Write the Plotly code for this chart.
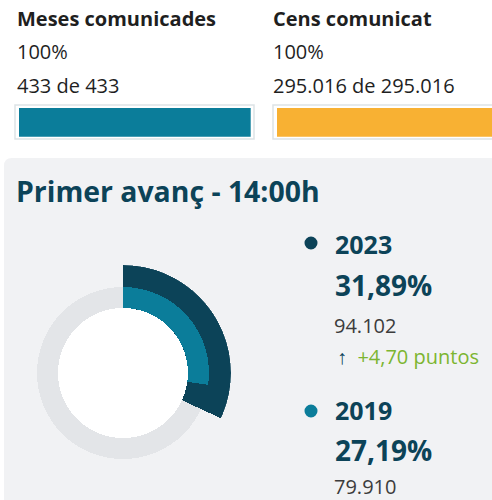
import plotly.graph_objects as go

# --- data ---
mesas_comunicadas = 433
mesas_total = 433
cens_comunicat = 295016
cens_total = 295016

anys = ["2023", "2019"]
participacio = [31.89, 27.19]
vots = ["94.102", "79.910"]
diferencia = "+4,70 puntos"

W, H = 492, 500
DARK = "#0c4358"
TEAL = "#0b7d9a"
ORANGE = "#f8b133"
GREEN = "#7cb530"
FONT = "Open Sans"


def px(x):
    return x / W


def py(y):
    return 1 - y / H


fig = go.Figure()

# progress bars (top)
fig.add_trace(go.Bar(x=[mesas_comunicadas / mesas_total * 100], y=[0], orientation="h",
                     marker=dict(color=TEAL, line_width=0), width=1,
                     xaxis="x", yaxis="y", hoverinfo="skip", showlegend=False))
fig.add_trace(go.Bar(x=[cens_comunicat / cens_total * 100], y=[0], orientation="h",
                     marker=dict(color=ORANGE, line_width=0), width=1,
                     xaxis="x2", yaxis="y2", hoverinfo="skip", showlegend=False))

# donut
r_in, r_mid, r_out = 65, 86, 108
fig.add_trace(go.Barpolar(r=[r_in], base=[0], theta=[180], width=[360],
                          marker=dict(color="white", line_width=0), hoverinfo="skip", showlegend=False))
fig.add_trace(go.Barpolar(r=[r_mid - r_in], base=[r_in], theta=[180], width=[360],
                          marker=dict(color="#e3e5e8", line_width=0), hoverinfo="skip", showlegend=False))
for val, col, ro in [(participacio[0], DARK, r_out), (participacio[1], TEAL, r_mid)]:
    ang = val * 3.6
    fig.add_trace(go.Barpolar(r=[ro - r_in], base=[r_in], theta=[ang / 2], width=[ang],
                              marker=dict(color=col, line_width=0), hoverinfo="skip", showlegend=False))

shapes = []
# card background
rad = 8
shapes.append(dict(type="path", xref="paper", yref="paper", layer="below",
                   path=f"M {px(4)},{py(510)} L {px(4)},{py(158 + rad)} Q {px(4)},{py(158)} {px(4 + rad)},{py(158)} "
                        f"L {px(510)},{py(158)} L {px(510)},{py(510)} Z",
                   fillcolor="#f1f2f4", line_width=0))
# bar tracks
for xa, xb in [(15, 254), (273, 520)]:
    shapes.append(dict(type="rect", xref="paper", yref="paper", layer="below",
                       x0=px(xa), x1=px(xb), y0=py(139), y1=py(105),
                       fillcolor="white", line=dict(color="#dde3e6", width=1.5)))
# legend dots
for cy, col in [(243, DARK), (411, TEAL)]:
    shapes.append(dict(type="circle", xref="paper", yref="paper",
                       x0=px(304.5), x1=px(317.5), y0=py(cy + 6.5), y1=py(cy - 6.5),
                       fillcolor=col, line_width=0))

ann = []


def text(x, y, s, size, color, bold=False):
    ann.append(dict(x=px(x), y=py(y), xref="paper", yref="paper", xanchor="left", yanchor="middle",
                    text=f"<b>{s}</b>" if bold else s, showarrow=False,
                    font=dict(family=FONT, size=size, color=color)))


fmt = lambda n: f"{n:,}".replace(",", ".")
TXT = "#1f1f1f"
text(15, 18, "Meses comunicades", 20, TXT, True)
text(15, 52, f"{mesas_comunicadas / mesas_total * 100:.0f}%", 20, TXT)
text(15, 86, f"{mesas_comunicadas} de {mesas_total}", 20, TXT)
text(271, 18, "Cens comunicat", 20, TXT, True)
text(271, 52, f"{cens_comunicat / cens_total * 100:.0f}%", 20, TXT)
text(271, 86, f"{fmt(cens_comunicat)} de {fmt(cens_total)}", 20, TXT)

text(14, 191, "Primer avanç - 14:00h", 28.4, DARK, True)

text(333, 244, anys[0], 25, DARK, True)
text(333, 285, f"{participacio[0]:.2f}%".replace(".", ","), 28, DARK, True)
text(332, 325, vots[0], 20, "#3c3c3c")
text(335, 356, f"<span style='color:{DARK}'>↑</span>&nbsp;&nbsp;{diferencia}", 20, GREEN)
text(333, 410, anys[1], 25, DARK, True)
text(333, 450, f"{participacio[1]:.2f}%".replace(".", ","), 28, DARK, True)
text(332, 486, vots[1], 20, "#3c3c3c")

fig.update_layout(
    width=W, height=H, margin=dict(l=0, r=0, t=0, b=0),
    paper_bgcolor="white", plot_bgcolor="rgba(0,0,0,0)",
    xaxis=dict(domain=[px(19), px(250.7)], range=[0, 100], visible=False, fixedrange=True),
    yaxis=dict(domain=[py(136.7), py(108)], range=[-0.5, 0.5], visible=False, fixedrange=True),
    xaxis2=dict(domain=[px(277), 1], range=[0, 100 * (492 - 277) / (250.7 - 19)], visible=False, fixedrange=True),
    yaxis2=dict(domain=[py(136.7), py(108)], range=[-0.5, 0.5], visible=False, fixedrange=True, anchor="x2"),
    polar=dict(domain=dict(x=[px(15), px(231)], y=[py(481), py(265)]),
               bgcolor="rgba(0,0,0,0)",
               radialaxis=dict(range=[0, r_out], visible=False),
               angularaxis=dict(rotation=90, direction="clockwise", visible=False)),
    shapes=shapes, annotations=ann, bargap=0,
)

# drop the browser's default 8px body margin so the figure sits at the window's corner
fig.write_html("out.html", config={"displayModeBar": False},
               post_script="document.body.style.margin='0';")
